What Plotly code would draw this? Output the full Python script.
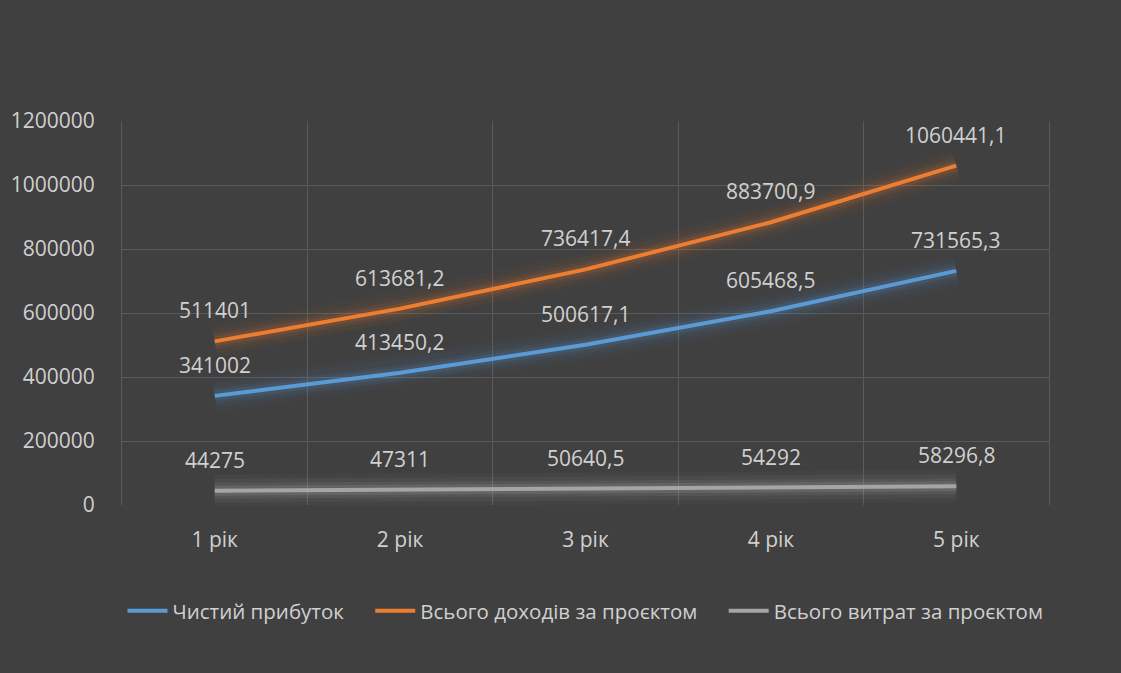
import plotly.graph_objects as go

categories = ["1 рік", "2 рік", "3 рік", "4 рік", "5 рік"]
net_profit = [341002, 413450.2, 500617.1, 605468.5, 731565.3]
total_income = [511401, 613681.2, 736417.4, 883700.9, 1060441.1]
total_costs = [44275, 47311, 50640.5, 54292, 58296.8]

series = [
    ("Чистий прибуток", net_profit, "#5B9BD5", "rgba(91,155,213,{a})"),
    ("Всього доходів за проєктом", total_income, "#ED7D31", "rgba(237,125,49,{a})"),
    ("Всього витрат за проєктом", total_costs, "#A5A5A5", "rgba(210,210,210,{a})"),
]

def fmt(v):
    if float(v).is_integer():
        return str(int(v))
    return str(v).replace(".", ",")

BG = "#404040"
GRID = "#5a5a5a"
TXT = "#d0d0d0"
FONT = "Open Sans"
PAD = "\u00a0" * 4

W, H = 1121, 673
ML, MR, MT, MB = 122, 72, 121, 168

fig = go.Figure()

# glow layers
for name, vals, col, rgba in series:
    for w, a in [(32, 0.035), (24, 0.05), (16, 0.08), (10, 0.12)]:
        fig.add_trace(go.Scatter(
            x=categories, y=vals, mode="lines",
            line=dict(color=rgba.format(a=a), width=w),
            hoverinfo="skip", showlegend=False))

for i, (name, vals, col, rgba) in enumerate(series):
    fig.add_trace(go.Scatter(
        x=categories, y=vals, mode="lines",
        name=name + (PAD if i < len(series) - 1 else ""),
        line=dict(color=col, width=4)))
    for c, v in zip(categories, vals):
        fig.add_annotation(x=c, y=v, text=fmt(v), showarrow=False,
                           yshift=31, font=dict(family=FONT, size=21, color=TXT))

fig.update_layout(
    width=W, height=H, autosize=False,
    paper_bgcolor=BG, plot_bgcolor=BG,
    margin=dict(l=ML, r=MR, t=MT, b=MB),
    font=dict(family=FONT, size=21, color=TXT),
    legend=dict(orientation="h", x=0.5, xanchor="center", y=-0.276, yanchor="middle",
                font=dict(family=FONT, size=20.5, color=TXT), bgcolor="rgba(0,0,0,0)",
                itemwidth=40, tracegroupgap=0),
    showlegend=True,
)
fig.update_xaxes(type="category", tickson="boundaries", showgrid=True, gridcolor=GRID,
                 gridwidth=1, ticks="", showline=False, zeroline=False,
                 range=[-0.5, 4.5], ticklabelstandoff=20,
                 tickfont=dict(family=FONT, size=21, color=TXT))
fig.update_yaxes(range=[0, 1200000], dtick=200000, tickformat="d", showgrid=True,
                 gridcolor=GRID, gridwidth=1, zeroline=False, ticks="",
                 showline=True, mirror=True, linecolor=GRID, linewidth=1,
                 ticklabelstandoff=22,
                 tickfont=dict(family=FONT, size=21, color=TXT))

fig.write_html("out.html")
